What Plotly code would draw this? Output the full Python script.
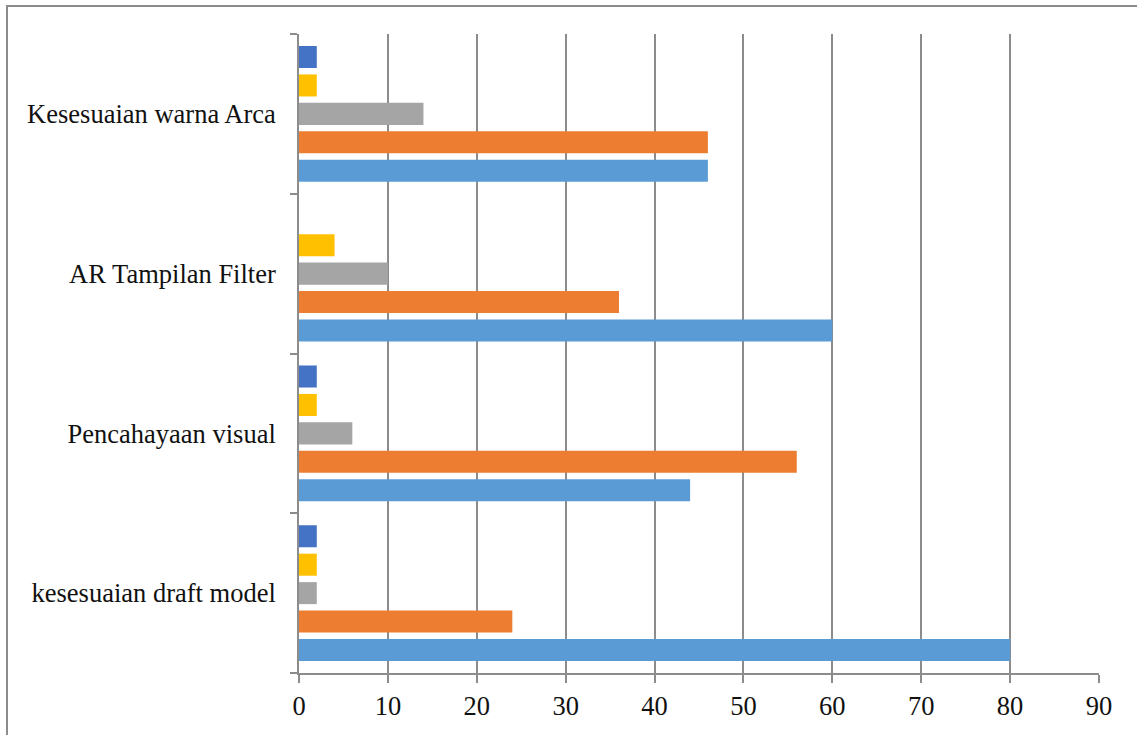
import plotly.graph_objects as go

# Survey categories (bottom to top) and the five response series
categories = [
    "kesesuaian draft model",
    "Pencahayaan visual",
    "AR Tampilan Filter",
    "Kesesuaian warna Arca",
]
series_names = ["Series 1", "Series 2", "Series 3", "Series 4", "Series 5"]
series_values = [
    [80, 44, 60, 46],
    [24, 56, 36, 46],
    [2, 6, 10, 14],
    [2, 2, 4, 2],
    [2, 2, 0, 2],
]
series_colors = ["#5B9BD5", "#ED7D31", "#A5A5A5", "#FFC000", "#4472C4"]
x_ticks = [0, 10, 20, 30, 40, 50, 60, 70, 80, 90]

W, H = 1137, 735
L, R, T, B = 299, 38, 34, 62
plot_w = W - L - R
plot_h = H - T - B

fig = go.Figure()
for name, vals, col in zip(series_names, series_values, series_colors):
    fig.add_trace(go.Bar(
        y=categories, x=vals, name=name, orientation="h",
        marker=dict(color=col, line=dict(width=0)),
    ))

grid_col = "#8c8c8c"
font = dict(family="Liberation Serif, Times New Roman, serif", size=26.5, color="#111111")

fig.update_layout(
    width=W, height=H,
    margin=dict(l=L, r=R, t=T, b=B, pad=0),
    paper_bgcolor="white", plot_bgcolor="white",
    barmode="group", bargap=0.11, bargroupgap=0.225,
    showlegend=False,
    font=font,
    xaxis=dict(
        range=[0, 90], tickvals=x_ticks, ticktext=[str(v) for v in x_ticks],
        showgrid=True, gridcolor=grid_col, gridwidth=1.8,
        showline=True, linecolor=grid_col, linewidth=1.8,
        ticks="outside", ticklen=8, tickcolor=grid_col, tickwidth=1.8,
        zeroline=False, fixedrange=True, ticklabelstandoff=0,
    ),
    yaxis=dict(
        type="category", categoryorder="array", categoryarray=categories,
        showgrid=False, zeroline=False,
        showline=True, linecolor=grid_col, linewidth=1.8,
        ticks="outside", ticklen=7, tickcolor=grid_col, tickwidth=1.8,
        tickson="boundaries", ticklabelstandoff=16, fixedrange=True,
    ),
)

# Outer frame around the chart area (extends past the right and bottom edges)
x0 = (7 - L) / plot_w
x1 = (W + 10 - L) / plot_w
y1 = (H - B - 6) / plot_h
y0 = (H - B - (H + 10)) / plot_h
fig.add_shape(type="rect", xref="paper", yref="paper",
              x0=x0, x1=x1, y0=y0, y1=y1,
              line=dict(color=grid_col, width=2), fillcolor="rgba(0,0,0,0)",
              layer="below")

fig.write_html("out.html")
